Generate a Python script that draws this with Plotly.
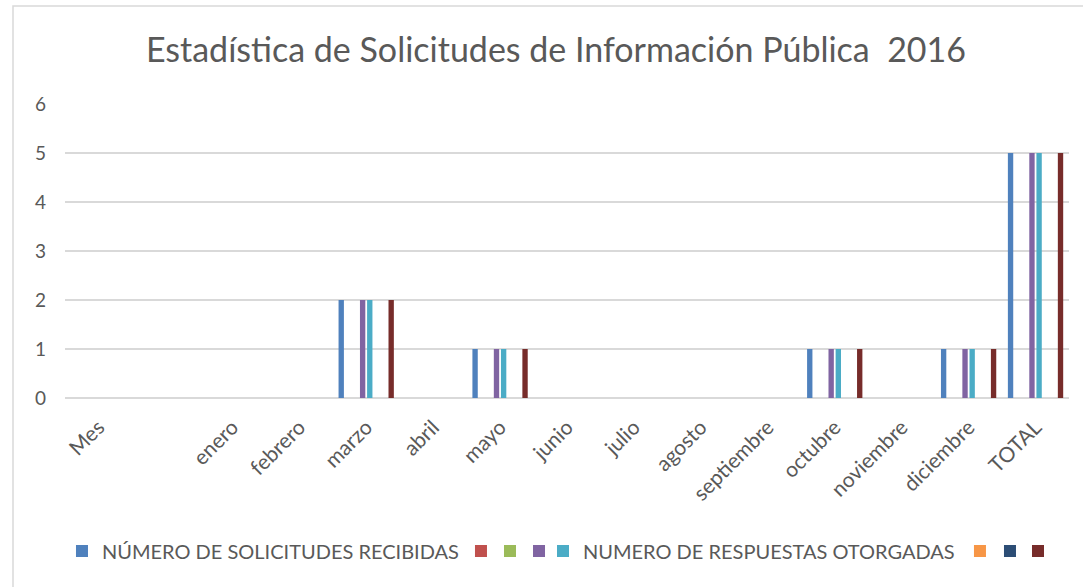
import plotly.graph_objects as go

categories = ["Mes", " ", "enero", "febrero", "marzo", "abril", "mayo", "junio",
              "julio", "agosto", "septiembre", "octubre", "noviembre", "diciembre", "TOTAL"]

solicitudes_recibidas = [0, 0, 0, 0, 2, 0, 1, 0, 0, 0, 0, 1, 0, 1, 5]
serie_2 = [0] * 15
serie_3 = [0] * 15
serie_4 = [0, 0, 0, 0, 2, 0, 1, 0, 0, 0, 0, 1, 0, 1, 5]
respuestas_otorgadas = [0, 0, 0, 0, 2, 0, 1, 0, 0, 0, 0, 1, 0, 1, 5]
serie_6 = [0] * 15
serie_7 = [0] * 15
serie_8 = [0, 0, 0, 0, 2, 0, 1, 0, 0, 0, 0, 1, 0, 1, 5]

series_names = ["NÚMERO DE SOLICITUDES RECIBIDAS", " ", " ", " ",
                "NUMERO DE RESPUESTAS OTORGADAS", " ", " ", " "]
series_values = [solicitudes_recibidas, serie_2, serie_3, serie_4,
                 respuestas_otorgadas, serie_6, serie_7, serie_8]
colors = ["#4F81BD", "#C0504D", "#9BBB59", "#8064A2",
          "#4BACC6", "#F79646", "#2C4D75", "#772C2A"]

# legend x positions (paper) for each series entry
legend_x = [-0.003, 0.3944, 0.4233, 0.4522, 0.4761, 0.8914, 0.9213, 0.9492]

FONT = "Lato, 'Open Sans', sans-serif"
GRAY = "#595959"

fig = go.Figure()
for i, (name, vals, col) in enumerate(zip(series_names, series_values, colors)):
    lid = "legend" if i == 0 else f"legend{i+1}"
    fig.add_trace(go.Bar(x=categories, y=vals, name=name, marker_color=col,
                         marker_line_width=0, legend=lid))

layout_legends = {}
for i, lx in enumerate(legend_x):
    lid = "legend" if i == 0 else f"legend{i+1}"
    layout_legends[lid] = dict(x=lx, y=-0.52, xanchor="left", yanchor="middle",
                               orientation="h", bgcolor="rgba(0,0,0,0)",
                               font=dict(family=FONT, size=20, color=GRAY),
                               itemwidth=30)

fig.update_layout(
    width=1083, height=587,
    paper_bgcolor="white", plot_bgcolor="white",
    margin=dict(l=65, r=14, t=104, b=189, autoexpand=False),
    barmode="group", bargap=0.147, bargroupgap=0.25,
    title=dict(text="Estadística de Solicitudes de Información Pública  2016",
               x=556 / 1083, xref="container", xanchor="center",
               y=1 - 50 / 587, yref="container", yanchor="middle",
               font=dict(family=FONT, size=34, color=GRAY)),
    showlegend=True,
    **layout_legends,
    xaxis=dict(type="category", tickangle=-45, showgrid=False,
               showline=False, ticks="", ticklabelstandoff=12,
               tickfont=dict(family=FONT, size=21, color=GRAY)),
    yaxis=dict(range=[0, 6], dtick=1, showgrid=True, gridcolor="#D9D9D9",
               gridwidth=1.5, zeroline=True, zerolinecolor="#D9D9D9",
               zerolinewidth=1.5, showline=False, ticks="",
               ticklabelstandoff=18,
               tickfont=dict(family=FONT, size=19, color=GRAY)),
    shapes=[dict(type="rect", xref="paper", yref="paper",
                 x0=-0.0518, x1=1.05, y0=-0.9, y1=1.3333,
                 line=dict(color="#D9D9D9", width=1.5),
                 fillcolor="rgba(0,0,0,0)", layer="below")],
)

fig.write_html("out.html", config={"displayModeBar": False},
               post_script="document.body.style.margin='0px';")
